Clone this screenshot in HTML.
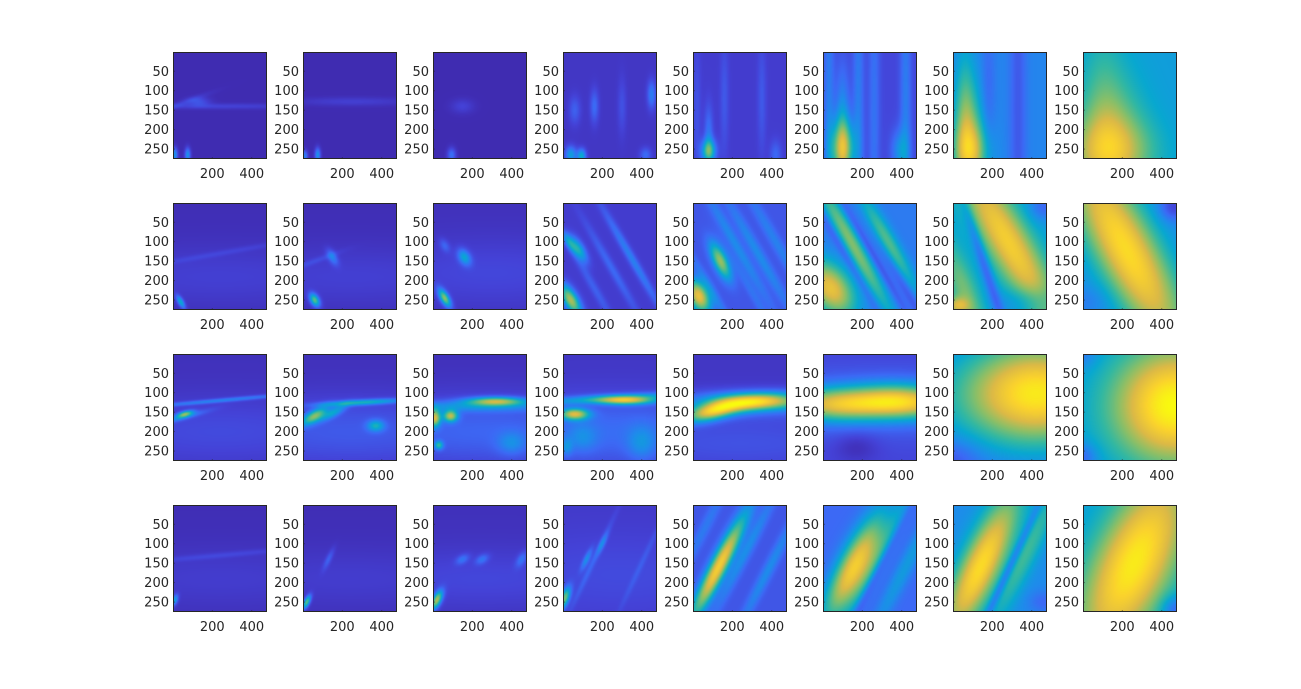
<!DOCTYPE html>
<html><head><meta charset="utf-8"><style>
html,body{margin:0;padding:0;background:#fff;}
#fig{position:relative;width:1301px;height:689px;overflow:hidden;background:#fff;}
canvas{position:absolute;}
svg{position:absolute;left:0;top:0;}
text{font-family:"DejaVu Sans","Liberation Sans",sans-serif;font-size:13px;fill:#262626;}
</style></head><body>
<div id="fig"></div>
<script>
// ---- data ----
const yTicks=[50,100,150,200,250];
const xTicks=[200,400];
const xRange=[0.5,477.5];
const yRange=[0.5,275.5];
const colLefts=[173,303,433,563,693,823,953,1083];
const rowTops=[52,203,354,505];
const panelW=94, panelH=107;
// each panel: base level, blobs [x, y (data units), major px, minor px, angle deg, amplitude]
const bases=[
 [.02,.02,.02,.06,.08,.11,.28,.36],
 [.03,.03,.04,.08,.15,.25,.35,.30],
 [.04,.04,.04,.06,.06,.10,.18,.30],
 [.03,.03,.04,.07,.15,.20,.30,.35]
];
const blobs=[
 [
  [[240,140,60,2,0,.08],[130,128,8,3,0,.12],[60,130,20,2,-20,.06],[10,265,2,5,0,.3],[75,265,2,5,0,.3]],
  [[250,128,40,3,0,.07],[10,268,2,4,0,.25],[75,265,2,5,0,.3]],
  [[150,140,5,8,90,.08],[95,265,3,5,0,.2]],
  [[40,265,4,6,0,.3],[95,268,3,5,0,.35],[160,140,3,12,0,.15],[450,110,3,10,0,.2],[60,150,4,10,0,.12],[300,140,3,20,0,.08],[420,265,4,5,0,.15]],
  [[80,255,5,8,0,.45],[80,210,3,20,0,.15],[160,120,3,40,0,.08],[350,120,3,40,0,.08],[420,265,4,10,0,.12],[20,150,3,50,0,.06]],
  [[100,250,8,20,0,.55],[100,180,5,40,0,.2],[30,150,4,120,0,.15],[180,150,4,120,0,.15],[260,150,4,120,0,.12],[420,150,4,120,0,.15],[390,255,6,15,0,.2]],
  [[90,260,12,20,0,.35],[80,200,10,35,0,.25],[60,130,7,45,0,.15],[330,150,6,200,0,-.12],[180,100,5,50,0,-.08]],
  [[140,260,30,25,0,.32],[150,190,22,40,0,.18],[100,120,15,60,0,.1]]
 ],
 [
  [[240,190,120,22,0,.06],[240,130,60,2,-10,.05],[40,255,5,2,60,.35]],
  [[240,190,120,22,0,.06],[60,250,5,3,60,.5],[150,140,6,3,60,.2],[60,150,20,2,-20,.06]],
  [[300,180,100,25,0,.07],[60,245,7,3,60,.55],[160,140,6,4,60,.3],[60,110,5,3,60,.12]],
  [[40,250,12,5,60,.6],[80,120,10,4,60,.35],[30,100,8,3,60,.25],[250,170,40,3,60,.12],[380,170,40,3,60,.12],[160,220,30,3,60,.1],[300,100,40,3,60,.08]],
  [[30,240,12,7,65,.65],[140,150,14,5,65,.5],[220,110,50,4,60,.15],[330,130,50,4,60,.15],[420,100,50,4,60,.12],[100,230,40,3,60,.1],[300,230,40,3,60,.08]],
  [[40,220,22,14,55,.55],[130,80,50,6,60,.25],[330,100,40,6,60,.3],[200,160,60,5,60,.15],[250,130,60,3,60,-.12],[420,220,40,4,60,-.12],[120,140,50,3,60,-.1]],
  [[280,100,70,16,60,.5],[60,230,40,10,70,.25],[20,265,8,6,0,.3],[160,160,60,4,72,-.2],[460,10,10,10,0,-.15],[400,250,20,10,0,-.12]],
  [[220,120,80,22,62,.6],[460,10,10,10,0,-.2],[30,250,15,10,0,-.05]]
 ],
 [
  [[240,200,120,25,0,.08],[240,120,60,1.5,-5,.2],[60,155,6,2,-15,.5],[40,165,20,2,-15,.15]],
  [[240,200,120,25,0,.12],[300,125,30,2,-3,.35],[60,160,10,4,-30,.5],[160,150,10,3,-30,.25],[370,185,6,4,0,.3]],
  [[270,200,120,25,0,.15],[320,122,20,3,0,.55],[10,165,4,6,0,.6],[90,160,5,4,0,.55],[30,235,3,3,0,.35],[200,135,60,4,0,.2],[400,230,10,8,0,.15]],
  [[240,115,70,3,-3,.25],[60,155,10,4,0,.6],[320,120,20,3,0,.55],[240,200,120,25,0,.15],[100,215,10,10,0,.12],[400,230,10,12,0,.15],[20,240,4,6,0,.15]],
  [[90,150,18,6,-15,.45],[340,122,35,6,0,.52],[210,135,30,6,-10,.32],[240,130,120,10,0,.12],[240,230,120,20,0,.08]],
  [[380,120,35,12,0,.48],[60,130,30,12,0,.3],[240,130,110,11,0,.25],[240,130,150,25,0,.1],[170,240,15,10,0,-.08]],
  [[430,100,50,35,0,.55],[350,110,90,45,0,.22],[0,270,20,15,0,-.1]],
  [[470,130,40,40,0,.5],[420,140,60,50,0,.2],[0,265,10,10,0,-.15],[0,0,10,10,0,-.1]]
 ],
 [
  [[240,190,120,22,0,.05],[10,245,4,2,-70,.3],[240,130,60,2,-5,.06]],
  [[240,190,120,22,0,.05],[20,250,5,2,-65,.5],[130,140,8,2,-65,.12]],
  [[240,190,120,22,0,.07],[20,245,7,3,-65,.6],[150,140,5,3,-30,.15],[250,140,5,3,-30,.15],[450,140,6,3,-60,.15]],
  [[10,240,8,3,-70,.5],[120,140,8,2,-65,.2],[200,100,8,2,-65,.15],[150,150,40,2,-65,.08],[400,150,40,2,-65,.06],[280,180,100,30,0,.05]],
  [[130,160,40,6,-63,.7],[270,120,50,4,-63,.15],[380,170,50,4,-63,.15],[60,60,40,4,-63,.1]],
  [[160,160,40,11,-63,.65],[300,110,60,6,-63,.15],[420,160,60,6,-63,.15],[250,200,60,3,-63,-.1]],
  [[140,160,55,14,-65,.6],[380,120,60,8,-65,.2],[460,250,10,8,0,-.1],[280,170,60,3,-65,-.2]],
  [[260,150,70,28,-65,.6],[470,270,10,10,0,-.2]]
 ]
];
// parula approximation
const cmap=[[0,62,38,168],[.1,68,66,215],[.2,60,105,245],[.3,30,140,235],[.4,8,168,208],[.5,51,184,161],[.625,135,191,105],[.75,220,185,70],[.875,250,210,45],[1,249,251,14]];
function col(v){v=Math.max(0,Math.min(1,v));for(let i=1;i<cmap.length;i++){if(v<=cmap[i][0]){const a=cmap[i-1],b=cmap[i],t=(v-a[0])/(b[0]-a[0]);return [a[1]+t*(b[1]-a[1]),a[2]+t*(b[2]-a[2]),a[3]+t*(b[3]-a[3])];}}return [249,251,14];}
function xPx(v){return (v-xRange[0])/(xRange[1]-xRange[0])*panelW;}
function yPx(v){return (v-yRange[0])/(yRange[1]-yRange[0])*panelH;}

const fig=document.getElementById('fig');
const NS='http://www.w3.org/2000/svg';
const svg=document.createElementNS(NS,'svg');
svg.setAttribute('width','1301');svg.setAttribute('height','689');



for(let r=0;r<4;r++){for(let c=0;c<8;c++){
  const L=colLefts[c],T=rowTops[r];
  const cv=document.createElement('canvas');
  cv.width=panelW;cv.height=panelH;
  cv.style.left=L+'px';cv.style.top=T+'px';
  
  
  const ctx=cv.getContext('2d');const img=ctx.createImageData(panelW,panelH);
  const bl=blobs[r][c].map(b=>({x:xPx(b[0]),y:yPx(b[1]),a:b[2],b:b[3],t:b[4]*Math.PI/180,amp:b[5]}));
  for(let py=0;py<panelH;py++)for(let px=0;px<panelW;px++){
    let v=bases[r][c];
    for(const b of bl){const dx=px+.5-b.x,dy=py+.5-b.y;const u=dx*Math.cos(b.t)+dy*Math.sin(b.t),w=-dx*Math.sin(b.t)+dy*Math.cos(b.t);v+=b.amp*Math.exp(-0.5*(u*u/(b.a*b.a)+w*w/(b.b*b.b)));}
    const k=col(v),i=(py*panelW+px)*4;img.data[i]=k[0];img.data[i+1]=k[1];img.data[i+2]=k[2];img.data[i+3]=255;}
  ctx.putImageData(img,0,0);
  fig.appendChild(cv);
  const g=document.createElementNS(NS,'g');
  
  
  const rect=document.createElementNS(NS,'rect');
  rect.setAttribute('x',L+.5);rect.setAttribute('y',T+.5);rect.setAttribute('width',panelW-1);rect.setAttribute('height',panelH-1);
  rect.setAttribute('fill','none');rect.setAttribute('stroke','#262626');rect.setAttribute('stroke-width','1');
  
  
  g.appendChild(rect);
  for(const t of yTicks){const y=T+yPx(t);
    const tx=document.createElementNS(NS,'text');tx.setAttribute('x',L-4);tx.setAttribute('y',y+4.5);tx.setAttribute('text-anchor','end');tx.textContent=t;
    
    
    g.appendChild(tx);
    const ln=document.createElementNS(NS,'line');ln.setAttribute('x1',L);ln.setAttribute('x2',L+1.5);ln.setAttribute('y1',y);ln.setAttribute('y2',y);ln.setAttribute('stroke','#262626');
    
    
    g.appendChild(ln);}
  for(const t of xTicks){const x=L+xPx(t);
    const tx=document.createElementNS(NS,'text');tx.setAttribute('x',x);tx.setAttribute('y',T+panelH+19);tx.setAttribute('text-anchor','middle');tx.textContent=t;
    
    
    g.appendChild(tx);
    const ln=document.createElementNS(NS,'line');ln.setAttribute('x1',x);ln.setAttribute('x2',x);ln.setAttribute('y1',T+panelH);ln.setAttribute('y2',T+panelH-1.5);ln.setAttribute('stroke','#262626');
    
    
    g.appendChild(ln);}
  svg.appendChild(g);
}}
fig.appendChild(svg);
</script>
</body></html>
